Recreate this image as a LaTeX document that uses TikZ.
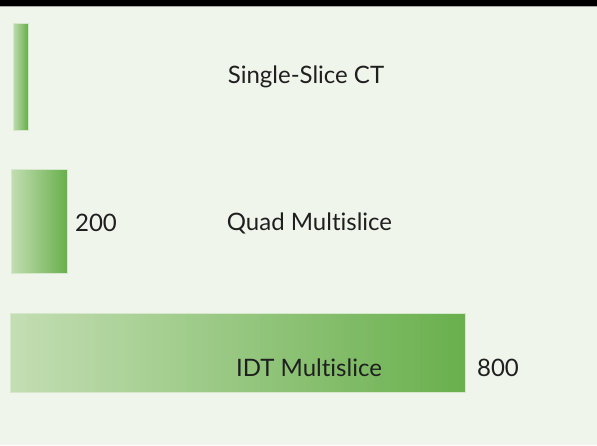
\documentclass[tikz,border=0pt]{standalone}
\usepackage{fontspec}
\setmainfont{Lato}[Ligatures=NoCommon]
\usetikzlibrary{calc}
\definecolor{bgc}{HTML}{F0F5EC}
\definecolor{lightg}{HTML}{C4DEB4}
\definecolor{darkg}{HTML}{69B04D}
\definecolor{edgeg}{HTML}{D6E8CC}
\tikzset{
  bar/.style={inner sep=0pt, outer sep=0pt, rectangle},
  lbl/.style={font=\fontsize{24}{28}\selectfont, text=black!88, inner sep=0pt},
}
\begin{document}
\begin{tikzpicture}[x=1pt,y=1pt]
\fill[bgc] (0,0) rectangle (597,445);
\useasboundingbox (0,0) rectangle (597,445);
\fill[black] (0,439) rectangle (597,445);
\fill[gray!70] (0,438.3) rectangle (597,439);
\node[bar, minimum width=15pt, minimum height=107pt] (b1) at (20.5,368.5) {};
\node[bar, minimum width=56pt, minimum height=104pt] (b2) at (39,224) {};
\node[bar, minimum width=455pt, minimum height=79pt] (b3) at (237.5,92.5) {};
\foreach \b in {b1,b2,b3} {
  \begin{scope}
  \clip (\b.south west) rectangle (\b.north east);
  \foreach \i in {0,...,79} {
    \pgfmathsetmacro\p{100*(\i+0.5)/80}
    \fill[darkg!\p!lightg] ($(\b.south west)!{\i/80}!(\b.south east)$) rectangle ($(\b.north west)!{(\i+1.5)/80}!(\b.north east)$);
  }
  \end{scope}
  \draw[edgeg, line width=0.7pt] (\b.south west) rectangle (\b.north east);
}
\node[lbl] (t1) at (306,368) {Single-Slice CT};
\node[lbl] (t2) at (309.5,222) {Quad Multislice};
\node[lbl] (v2) at (96,222) {200};
\node[lbl] (t3) at (309,77) {IDT Multislice};
\node[lbl] (v3) at (498,77) {800};
\end{tikzpicture}
\end{document}
